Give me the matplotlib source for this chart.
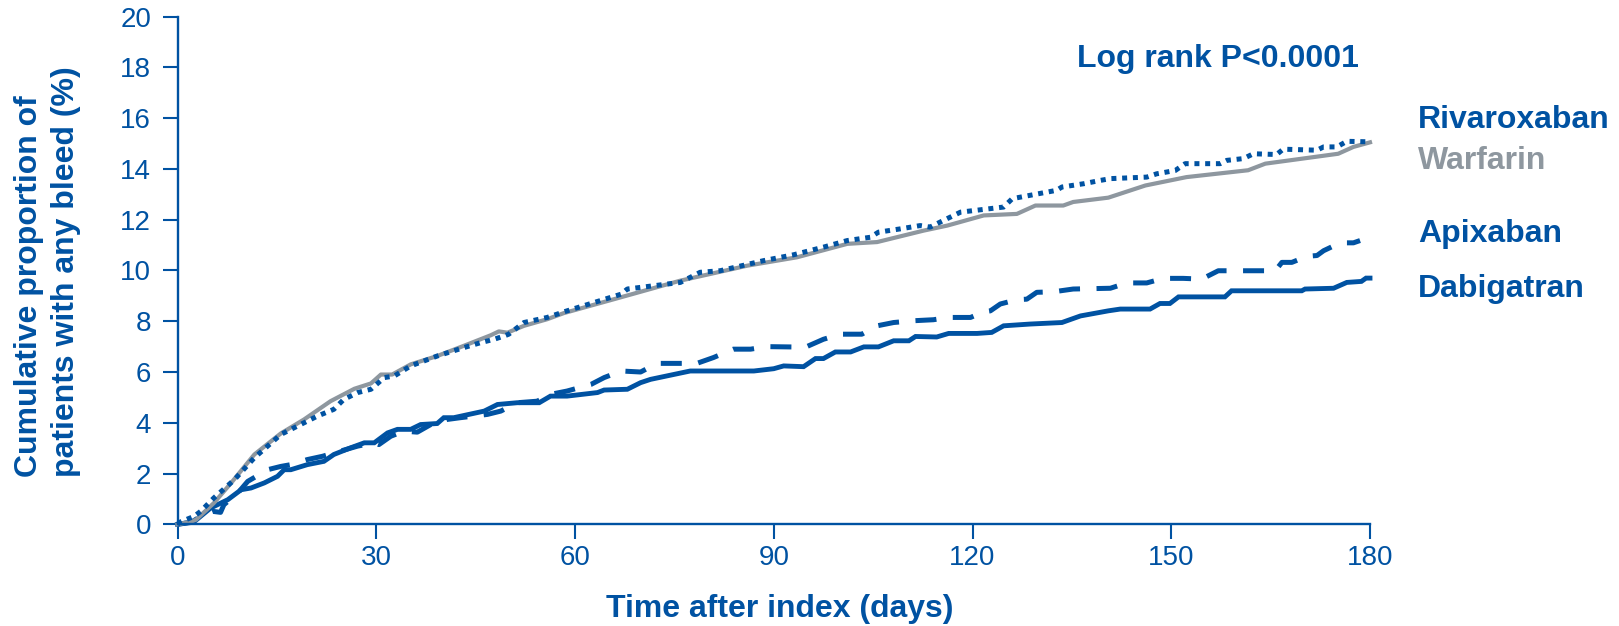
import matplotlib
matplotlib.use("Agg")
import matplotlib.pyplot as plt

plt.rcParams["font.family"] = ["Liberation Sans", "DejaVu Sans"]

AZUL = "#0052A2"
CINZA = "#8E979F"

# Curvas (dias, % acumulado)
dias_warf = [0, 2, 2.8, 5.5, 8.1, 11.6, 15.6, 19.1, 23.1, 26.7, 29.2, 30.7, 32.4, 35.2, 39.2,
             43.2, 47.3, 48.5, 49.8, 52.3, 55.8, 58.3, 65.9, 75.9, 86, 93.5, 101.1, 105.6,
             112.6, 116.2, 121.7, 126.7, 129.5, 133.7, 135.2, 140.5, 146.1, 152.3, 161.6,
             164.2, 175.2, 177.5, 180]
warfarin = [0, 0.1, 0.18, 0.84, 1.63, 2.75, 3.58, 4.13, 4.85, 5.34, 5.55, 5.9, 5.9, 6.3, 6.63,
            7.03, 7.45, 7.6, 7.55, 7.82, 8.08, 8.32, 8.87, 9.6, 10.19, 10.52, 11.05, 11.12,
            11.57, 11.77, 12.17, 12.23, 12.56, 12.56, 12.7, 12.87, 13.35, 13.68, 13.95,
            14.21, 14.6, 14.87, 15.05]

dias_riva = [0, 0.5, 2.5, 3.5, 5.5, 8.6, 11.6, 15.6, 19.1, 21.1, 23.6, 25.1, 27.2, 29.2, 31.2,
             32.7, 35.2, 39.2, 43.2, 45.8, 47.8, 49.3, 50, 52.3, 55.8, 58.8, 67, 67.9, 75.9,
             78.9, 81.9, 88.5, 93, 97.5, 101.1, 104.6, 105.8, 109.1, 112.1, 113.6, 115.6,
             118.2, 124.7, 126, 132.7, 133.5, 136.8, 139.3, 140.8, 146.3, 147.8, 150.6,
             152.1, 157.4, 158.4, 160.9, 162.4, 165.9, 166.9, 172, 173, 175, 176.5, 180]
rivaroxaban = [0, 0.1, 0.31, 0.51, 1.04, 1.76, 2.62, 3.54, 4.0, 4.26, 4.53, 4.92, 5.19, 5.32,
               5.78, 5.84, 6.24, 6.63, 6.96, 7.16, 7.29, 7.42, 7.49, 7.95, 8.15, 8.41, 9.07,
               9.27, 9.53, 9.93, 9.99, 10.39, 10.62, 10.92, 11.18, 11.31, 11.51, 11.64, 11.77,
               11.71, 11.97, 12.3, 12.5, 12.83, 13.16, 13.29, 13.42, 13.55, 13.62, 13.68,
               13.81, 13.94, 14.21, 14.21, 14.34, 14.41, 14.6, 14.57, 14.78, 14.74, 14.87,
               14.87, 15.09, 15.07]

dias_apix = [0, 2, 3.5, 5.3, 6.5, 7, 9.1, 10.6, 13.6, 15.6, 17.1, 19.6, 21.9, 23.6, 27.2, 29.7,
             30.4, 32.2, 34.2, 36.2, 38.7, 40.7, 42.7, 46.8, 48.8, 51.3, 54.3, 56.3, 58.8,
             62.4, 64.4, 67, 69.9, 72.4, 78.4, 80.9, 83.9, 86.5, 89, 94.8, 97.5, 100.1, 103.3,
             105.6, 108.1, 111.1, 114.1, 116.4, 119.7, 121.7, 122.7, 124.2, 126.7, 128.2,
             129.7, 132.2, 135.2, 140.8, 143.3, 146.3, 148.8, 151.8, 154.6, 157.1, 165.7,
             166.7, 168.2, 170.5, 172, 173, 175.5, 177.5, 178.5]
apixaban = [0, 0.07, 0.31, 0.51, 0.47, 0.77, 1.23, 1.69, 2.15, 2.28, 2.35, 2.55, 2.68, 2.81,
            3.08, 3.21, 3.14, 3.47, 3.67, 3.63, 4.0, 4.13, 4.2, 4.33, 4.46, 4.79, 4.85, 5.12,
            5.25, 5.51, 5.78, 6.04, 6.0, 6.34, 6.34, 6.57, 6.9, 6.9, 7.0, 6.98, 7.29, 7.49,
            7.49, 7.82, 7.95, 8.02, 8.06, 8.15, 8.15, 8.37, 8.41, 8.68, 8.85, 8.87, 9.14,
            9.16, 9.27, 9.30, 9.51, 9.51, 9.69, 9.69, 9.66, 9.99, 9.99, 10.32, 10.32, 10.56,
            10.59, 10.78, 11.09, 11.09, 11.18]

dias_dabi = [0, 2.5, 5, 7.6, 9.6, 11.1, 13.1, 15.1, 16.1, 17.1, 19.6, 22.1, 23.6, 26.1, 28.2,
             29.7, 31.7, 33.2, 35.2, 36.7, 39.2, 40.2, 41.7, 46.3, 48.3, 51.3, 54.6, 56.3,
             58.8, 63.4, 64.4, 67.9, 69.9, 71.4, 77.4, 87, 90, 91.5, 94.5, 96.3, 97.5, 99.3,
             101.6, 103.6, 105.8, 108.1, 110.4, 111.4, 114.6, 116.4, 120.7, 122.9, 124.7,
             128.7, 133.5, 136.3, 140.5, 142.3, 146.8, 148.3, 149.8, 151.1, 158.1, 159.1,
             169.7, 170.2, 174.5, 176.5, 178.7, 179.4, 180]
dabigatran = [0, 0.1, 0.64, 0.97, 1.36, 1.43, 1.63, 1.89, 2.15, 2.15, 2.35, 2.48, 2.75, 3.01,
              3.21, 3.21, 3.6, 3.74, 3.74, 3.93, 3.97, 4.2, 4.2, 4.46, 4.72, 4.79, 4.79, 5.05,
              5.05, 5.19, 5.29, 5.32, 5.58, 5.71, 6.04, 6.04, 6.13, 6.24, 6.21, 6.53, 6.53,
              6.79, 6.79, 6.99, 6.99, 7.23, 7.23, 7.4, 7.38, 7.52, 7.52, 7.56, 7.82, 7.89,
              7.95, 8.21, 8.41, 8.48, 8.48, 8.7, 8.7, 8.96, 8.96, 9.2, 9.2, 9.27, 9.3, 9.53,
              9.57, 9.7, 9.7]

xticks = [0, 30, 60, 90, 120, 150, 180]
yticks = list(range(0, 21, 2))

fig = plt.figure(figsize=(16.19, 6.26), dpi=100)
esq, dir_ = 177.5 / 1619, 1370 / 1619
ax = fig.add_axes([esq, 0.1625, dir_ - esq, 0.9733 - 0.1625])

ax.plot(dias_dabi, dabigatran, color=AZUL, linewidth=3.5, solid_joinstyle="miter", clip_on=False)
ax.plot(dias_apix, apixaban, color=AZUL, linewidth=3.6, linestyle=(0, (4.2, 3.3)),
        dash_capstyle="butt", clip_on=False)
ax.plot(dias_warf, warfarin, color=CINZA, linewidth=3.0, clip_on=False)
ax.plot(dias_riva, rivaroxaban, color=AZUL, linewidth=3.6, linestyle=(0, (1.0, 1.15)),
        dash_capstyle="butt", clip_on=False)

ax.set_xlim(0, 180)
ax.set_ylim(0, 20)
ax.set_xticks(xticks)
ax.set_yticks(yticks)
for lado in ["top", "right"]:
    ax.spines[lado].set_visible(False)
for lado in ["left", "bottom"]:
    ax.spines[lado].set_color(AZUL)
    ax.spines[lado].set_linewidth(1.7)
ax.tick_params(axis="both", colors=AZUL, labelsize=20, width=1.5, length=11)
ax.tick_params(axis="x", pad=4)
ax.tick_params(axis="y", pad=8)

fig.text(47.5 / 1619, 1 - 477 / 626, "Cumulative proportion of\npatients with any bleed (%)",
         rotation=90, ha="center", va="bottom", multialignment="left",
         fontsize=23, fontweight="bold", color=AZUL, linespacing=1.33)
fig.text(780 / 1619, 1 - 609 / 626, "Time after index (days)", ha="center", va="center",
         fontsize=23, fontweight="bold", color=AZUL)
fig.text(1076.7 / 1619, 1 - 66.7 / 626, "Log rank P<0.0001", ha="left", va="baseline",
         fontsize=23, fontweight="bold", color=AZUL)

# Rotulos das series a direita
rotulos = [("Rivaroxaban", 128.3, AZUL), ("Warfarin", 169.3, CINZA),
           ("Apixaban", 241.7, AZUL), ("Dabigatran", 297.3, AZUL)]
for texto, base, cor in rotulos:
    fig.text(1418 / 1619, 1 - base / 626, texto, ha="left", va="baseline",
             fontsize=23, fontweight="bold", color=cor)

fig.savefig("out.png", dpi=100)
